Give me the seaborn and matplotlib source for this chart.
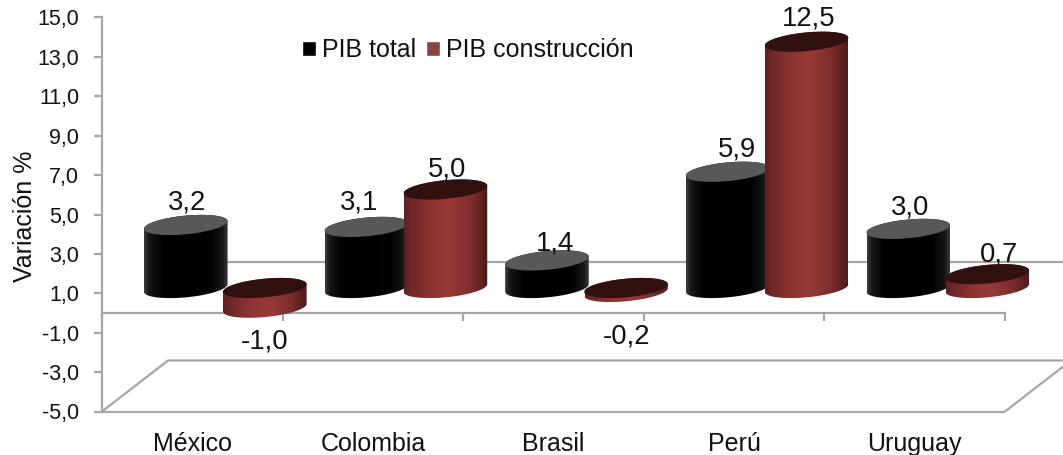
import numpy as np
import pandas as pd
import seaborn as sns
import matplotlib
matplotlib.use("Agg")
import matplotlib.pyplot as plt
from matplotlib.colors import LinearSegmentedColormap
from matplotlib.patches import Polygon
from matplotlib.ticker import FuncFormatter

# Growth figures by country
countries = ["México", "Colombia", "Brasil", "Perú", "Uruguay"]
pib_total = [3.2, 3.1, 1.4, 5.9, 3.0]
pib_construccion = [-1.0, 5.0, -0.2, 12.5, 0.7]
series_names = ["PIB total", "PIB construcción"]
y_ticks = list(range(-5, 16, 2))

# Label nudges in pixels (right, up) from each cylinder's end
label_nudges = [
    [(1.5, 22), (-7, 24), (8, 17), (9, 22), (1.5, 21)],
    [(0, -34), (1.5, 20.5), (0, -45), (2.5, 23), (12, 20)],
]

W, H = 1063, 455
LEFT, RIGHT, TOP, BOTTOM = 102, 1005, 17.5, 411.5
DEPTH_X, DEPTH_Y = 66, 51
PX_X = (RIGHT - LEFT) / 5
PX_Y = (BOTTOM - TOP) / 20
GREY = "#A6A6A6"
INK = "#111111"

sns.set_style("white")
plt.rcParams["font.family"] = ["Liberation Sans", "DejaVu Sans"]

df = pd.DataFrame({
    "pais": countries * 2,
    "serie": [series_names[0]] * 5 + [series_names[1]] * 5,
    "valor": pib_total + pib_construccion,
})

fig = plt.figure(figsize=(W / 100, H / 100), dpi=100)


def place(dx=0, dy=0):
    return [(LEFT + dx) / W, (H - BOTTOM + dy) / H, (RIGHT - LEFT) / W, (BOTTOM - TOP) / H]


# Front plane: value axis, floor outline and category names
frame = fig.add_axes(place())
frame.set_xlim(-0.5, 4.5)
frame.set_ylim(-5, 15)
frame.patch.set_visible(False)
for side in ("top", "right"):
    frame.spines[side].set_visible(False)
for side in ("left", "bottom"):
    frame.spines[side].set_color(GREY)
    frame.spines[side].set_linewidth(1.6)
frame.spines["bottom"].set_position(("data", 0))
frame.set_yticks(y_ticks)
frame.yaxis.set_major_formatter(FuncFormatter(lambda v, _: f"{v:.1f}".replace(".", ",")))
frame.set_xticks(np.arange(-0.5, 5, 1))
frame.set_xticklabels([])
frame.set_xticks(range(5), labels=countries, minor=True)
frame.tick_params(axis="both", which="major", length=6, width=1.6, color=GREY,
                  direction="out", bottom=True, left=True)
frame.tick_params(axis="y", labelsize=15.5, pad=10.5, labelcolor=INK)
frame.tick_params(axis="x", which="minor", bottom=True, length=0, pad=85.5, labelsize=18,
                  labelcolor=INK)
frame.set_ylabel("Variación %", fontsize=18, color=INK)
frame.yaxis.set_label_coords((37 - LEFT) / (RIGHT - LEFT), (BOTTOM - 216) / (BOTTOM - TOP))

# Floor and back-wall outline receding from the front plane
dx, dy = DEPTH_X / PX_X, DEPTH_Y / PX_Y
wall = dict(color=GREY, lw=1.6, clip_on=False, solid_capstyle="butt")
frame.plot([-0.5, 4.5], [-5, -5], **wall)
frame.plot([-0.5, -0.5 + dx, 4.5 + dx, 4.5], [-5, -5 + dy, -5 + dy, -5], **wall)
frame.plot([-0.5 + dx, 4.5 + dx], [dy, dy], **wall)

# Cylinders sit halfway along the floor depth
bars = fig.add_axes(place(DEPTH_X / 2, 25))
bars.set_zorder(frame.get_zorder() + 1)
palette = {series_names[0]: "#000000", series_names[1]: "#953735"}
sns.barplot(data=df, x="pais", y="valor", hue="serie", hue_order=series_names,
            palette=palette, width=0.875, ax=bars, errorbar=None, legend=True)
old = bars.get_legend()
handles = old.legend_handles
bars.legend(handles, series_names, loc="center left",
            bbox_to_anchor=(302 / W, 1 - 50 / H), bbox_transform=fig.transFigure,
            ncols=2, frameon=False, fontsize=18, handlelength=0.54, handleheight=0.54,
            handletextpad=0.24, columnspacing=0.42, borderpad=0, borderaxespad=0,
            labelcolor=INK)

shades = [
    LinearSegmentedColormap.from_list("body0", [(0, "#3a3a3a"), (0.06, "#161616"), (0.2, "#020202"),
                                                (0.5, "#000000"), (0.8, "#020202"), (0.94, "#161616"),
                                                (1, "#3a3a3a")]),
    LinearSegmentedColormap.from_list("body1", [(0, "#5a2120"), (0.08, "#6e2827"), (0.3, "#8b3331"),
                                                (0.55, "#983a38"), (0.8, "#7c2e2c"), (0.93, "#5d2221"),
                                                (1, "#4a1b1a")]),
]
cap_colors = ["#585858", "#311010"]

SEMI_A, SEMI_B = 42.0, 9.3
TILT = np.deg2rad(5.5)
BAR_PX = 83.0
ramp = np.linspace(0, 1, 128)[None, :]


def ring(cx, value, start, stop, n=60):
    t = np.linspace(start, stop, n)
    px = SEMI_A * np.cos(t) * np.cos(TILT) - SEMI_B * np.sin(t) * np.sin(TILT)
    py = SEMI_A * np.cos(t) * np.sin(TILT) + SEMI_B * np.sin(t) * np.cos(TILT)
    return np.column_stack([cx + px / PX_X, value + py / PX_Y])


t_right = np.arctan2(-SEMI_B * np.sin(TILT), SEMI_A * np.cos(TILT))
t_left = t_right + np.pi

z = 5
for cat in range(5):
    for s, container in enumerate(bars.containers):
        bar = container.patches[cat]
        bar.set_visible(False)
        cx = bar.get_x() + bar.get_width() / 2
        value = bar.get_y() + bar.get_height()
        if bar.get_y() < 0 and bar.get_height() > 0:
            value = bar.get_y()
        hi, lo = max(value, 0), min(value, 0)
        half = BAR_PX / 2 / PX_X
        outline = np.vstack([ring(cx, lo, t_left, t_right + 2 * np.pi),
                             ring(cx, hi, t_right, t_left)])
        clip = Polygon(outline, closed=True, transform=bars.transData, fill=False, edgecolor="none")
        bars.add_patch(clip)
        body = bars.imshow(ramp, cmap=shades[s], vmin=0, vmax=1, aspect="auto", zorder=z,
                           extent=(cx - half, cx + half, lo - 1, hi + 1))
        body.set_clip_path(clip)
        bars.add_patch(Polygon(ring(cx, hi, 0, 2 * np.pi), closed=True, facecolor=cap_colors[s],
                               edgecolor="none", zorder=z + 1))
        z += 2
        nudge_x, nudge_y = label_nudges[s][cat]
        bars.annotate(f"{value:.1f}".replace(".", ","), (cx, value),
                      xytext=(nudge_x * 0.72, nudge_y * 0.72), textcoords="offset points",
                      ha="center", va="center", fontsize=19.8, color=INK,
                      zorder=200, annotation_clip=False)

bars.set_xlim(-0.5, 4.5)
bars.set_ylim(-5, 15)
bars.set_axis_off()

fig.savefig("out.png", dpi=100)
